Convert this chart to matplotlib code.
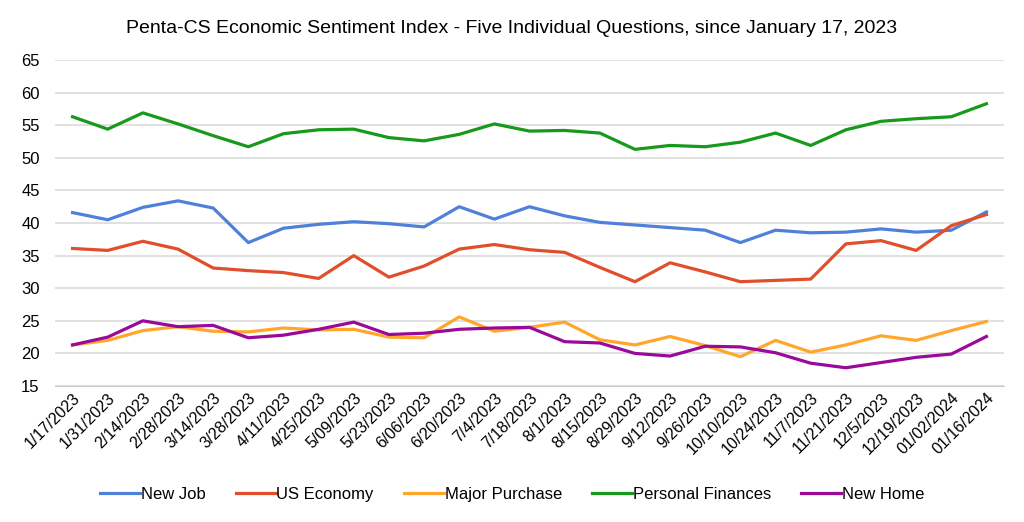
import numpy as np
import matplotlib
matplotlib.use("Agg")
import matplotlib.pyplot as plt

plt.rcParams['font.family'] = ['Liberation Sans', 'DejaVu Sans']

dates = ["1/17/2023", "1/31/2023", "2/14/2023", "2/28/2023", "3/14/2023", "3/28/2023",
         "4/11/2023", "4/25/2023", "5/09/2023", "5/23/2023", "6/06/2023", "6/20/2023",
         "7/4/2023", "7/18/2023", "8/1/2023", "8/15/2023", "8/29/2023", "9/12/2023",
         "9/26/2023", "10/10/2023", "10/24/2023", "11/7/2023", "11/21/2023", "12/5/2023",
         "12/19/2023", "01/02/2024", "01/16/2024"]

new_job = [41.6, 40.5, 42.4, 43.4, 42.3, 37.0, 39.2, 39.8, 40.2, 39.9, 39.4, 42.5,
           40.6, 42.5, 41.1, 40.1, 39.7, 39.3, 38.9, 37.0, 38.9, 38.5, 38.6, 39.1,
           38.6, 38.9, 41.7]
us_economy = [36.1, 35.8, 37.2, 36.0, 33.1, 32.7, 32.4, 31.5, 35.0, 31.7, 33.4, 36.0,
              36.7, 35.9, 35.5, 33.2, 31.0, 33.9, 32.5, 31.0, 31.2, 31.4, 36.8, 37.3,
              35.8, 39.6, 41.3]
major_purchase = [21.3, 22.0, 23.5, 24.1, 23.4, 23.3, 23.9, 23.6, 23.7, 22.5, 22.4, 25.6,
                  23.4, 24.0, 24.8, 22.1, 21.3, 22.6, 21.2, 19.5, 22.0, 20.2, 21.3, 22.7,
                  22.0, 23.5, 24.9]
personal_finances = [56.3, 54.4, 56.9, 55.2, 53.4, 51.7, 53.7, 54.3, 54.4, 53.1, 52.6, 53.6,
                     55.2, 54.1, 54.2, 53.8, 51.3, 51.9, 51.7, 52.4, 53.8, 51.9, 54.3, 55.6,
                     56.0, 56.3, 58.3]
new_home = [21.3, 22.5, 25.0, 24.1, 24.3, 22.4, 22.8, 23.7, 24.8, 22.9, 23.1, 23.7,
            23.9, 24.0, 21.8, 21.6, 20.0, 19.6, 21.1, 21.0, 20.1, 18.5, 17.8, 18.6,
            19.4, 19.9, 22.6]

series = [
    ("New Job", new_job, "#4f80da"),
    ("US Economy", us_economy, "#e14e2b"),
    ("Major Purchase", major_purchase, "#ffa62b"),
    ("Personal Finances", personal_finances, "#17991c"),
    ("New Home", new_home, "#9a0a9a"),
]

fig = plt.figure(figsize=(10.24, 5.22), dpi=100)
ax = fig.add_axes([0.0537, 0.2605, 0.9268, 0.6245])

x = np.arange(len(dates))
for name, vals, color in series:
    ax.plot(x, vals, color=color, linewidth=2.3, label=name)

ax.set_xlim(-0.5, len(dates) - 0.5)
ax.set_ylim(15, 65)
ax.set_yticks(np.arange(15, 66, 5))
ax.set_xticks(x)
ax.set_xticklabels(dates, rotation=45, ha='right', rotation_mode='anchor')
ax.grid(axis='y', color='#dcdcdc', linewidth=1.2)
ax.set_axisbelow(True)
for s in ['top', 'right', 'left']:
    ax.spines[s].set_visible(False)
ax.spines['bottom'].set_color('#cccccc')
ax.tick_params(axis='both', length=0, labelsize=12, colors='black')
ax.tick_params(axis='x', labelsize=11.5, pad=3)
ax.tick_params(axis='y', pad=11)

fig.text(0.5, 0.946, "Penta-CS Economic Sentiment Index - Five Individual Questions, since January 17, 2023",
         fontsize=14, ha='center', va='center')

fig.legend(loc='center', bbox_to_anchor=(0.5, 0.053), ncol=5, frameon=False,
           fontsize=12, handlelength=2.4, handletextpad=0.05, columnspacing=1.8)

plt.savefig("out.png", dpi=100)
